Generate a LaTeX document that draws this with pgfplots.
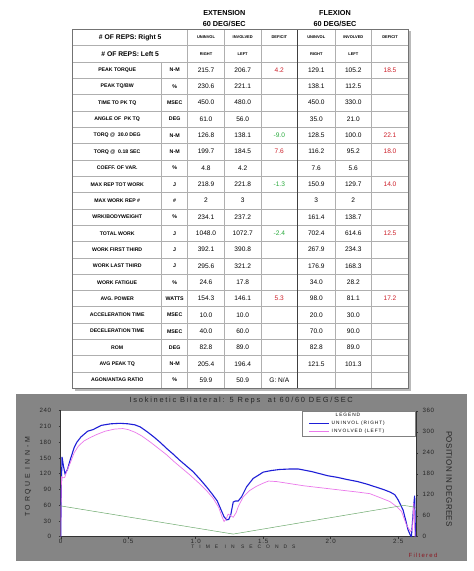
\documentclass[border=0pt]{standalone}
\usepackage{fontspec}
\setmainfont{Liberation Sans}
\usepackage{pgfplots}
\pgfplotsset{compat=1.18}

\definecolor{panelgray}{RGB}{133,133,133}
\definecolor{gridgray}{RGB}{175,175,175}
\definecolor{defred}{RGB}{205,30,40}
\definecolor{defgreen}{RGB}{40,170,60}
\definecolor{uninv}{RGB}{30,30,215}
\definecolor{inv}{RGB}{235,120,235}
\definecolor{posgreen}{RGB}{110,170,110}
\definecolor{filtred}{RGB}{140,25,35}

\newcommand\fs[1]{\fontsize{#1}{#1}\selectfont}
\newcommand\ls[1]{\addfontfeatures{LetterSpace=#1}}
\newcommand\R[1]{\textcolor{defred}{#1}}
\newcommand\G[1]{\textcolor{defgreen}{#1}}

\begin{document}
\begin{tikzpicture}
\fill[white] (0,0) rectangle (474bp,571bp);
\path[use as bounding box] (0,0) rectangle (474bp,571bp);

% ---------- table ----------
\begin{scope}[x=1bp,y=-1bp,yshift=571bp]
  \node[font=\bfseries\fs{7.3}] at (224.3,13.3) {EXTENSION};
  \node[font=\bfseries\fs{7.3}] at (224.3,24.2) {60 DEG/SEC};
  \node[font=\bfseries\fs{7.3}] at (335,13.3) {FLEXION};
  \node[font=\bfseries\fs{7.3}] at (335,24.2) {60 DEG/SEC};

  % shadow and frame
  \fill[gray!55] (408.3,31.5) rectangle (411.3,391.3);
  \fill[gray!55] (74.7,388.3) rectangle (411.3,391.3);
  \foreach \k in {1,...,21}
    \draw[gridgray, line width=0.5bp] (72.7,{29.3+16.32*\k}) -- (408.3,{29.3+16.32*\k});
  \foreach \xx in {187.7,224.3,261,335,371.7}
    \draw[gridgray, line width=0.5bp] (\xx,29.3) -- (\xx,388.3);
  \draw[gridgray, line width=0.5bp] (161.7,61.9) -- (161.7,388.3);
  \draw[black!75, line width=0.8bp] (297.7,29.3) -- (297.7,388.3);
  \draw[black!55, line width=0.6bp] (72.7,29.3) rectangle (408.3,388.3);

  % header rows
  \node[font=\bfseries\fs{6.8}] at (130.2,37.5) {\# OF REPS: Right 5};
  \node[font=\bfseries\fs{6.8}] at (130.2,53.8) {\# OF REPS: Left 5};
  \foreach \xx/\t in {206/UNINVOL,242.7/INVOLVED,279.3/DEFICIT,316.3/UNINVOL,353.3/INVOLVED,390/DEFICIT}
    \node[font=\bfseries\fs{4}] at (\xx,37.5) {\t};
  \foreach \xx/\t in {206/RIGHT,242.7/LEFT,316.3/RIGHT,353.3/LEFT}
    \node[font=\bfseries\fs{4}] at (\xx,53.8) {\t};

  % data rows
  \foreach \lab/\un/\a/\b/\c/\d/\e/\f [count=\i] in {
    PEAK TORQUE/N-M/215.7/206.7/\R{4.2}/129.1/105.2/\R{18.5},
    PEAK TQ\slash BW/\%/230.6/221.1/{}/138.1/112.5/{},
    TIME TO PK TQ/MSEC/450.0/480.0/{}/450.0/330.0/{},
    ANGLE OF\ \ PK TQ/DEG/61.0/56.0/{}/35.0/21.0/{},
    TORQ @\ \ 30.0 DEG/N-M/126.8/138.1/\G{-9.0}/128.5/100.0/\R{22.1},
    TORQ @\ \ 0.18 SEC/N-M/199.7/184.5/\R{7.6}/116.2/95.2/\R{18.0},
    COEFF. OF VAR./\%/4.8/4.2/{}/7.6/5.6/{},
    MAX REP TOT WORK/J/218.9/221.8/\G{-1.3}/150.9/129.7/\R{14.0},
    MAX WORK REP \#/\#/2/3/{}/3/2/{},
    WRK\slash BODYWEIGHT/\%/234.1/237.2/{}/161.4/138.7/{},
    TOTAL WORK/J/1048.0/1072.7/\G{-2.4}/702.4/614.6/\R{12.5},
    WORK FIRST THIRD/J/392.1/390.8/{}/267.9/234.3/{},
    WORK LAST THIRD/J/295.6/321.2/{}/176.9/168.3/{},
    WORK FATIGUE/\%/24.6/17.8/{}/34.0/28.2/{},
    AVG. POWER/WATTS/154.3/146.1/\R{5.3}/98.0/81.1/\R{17.2},
    ACCELERATION TIME/MSEC/10.0/10.0/{}/20.0/30.0/{},
    DECELERATION TIME/MSEC/40.0/60.0/{}/70.0/90.0/{},
    ROM/DEG/82.8/89.0/{}/82.8/89.0/{},
    AVG PEAK TQ/N-M/205.4/196.4/{}/121.5/101.3/{},
    AGON\slash ANTAG RATIO/\%/59.9/50.9/G: N\slash A/{}/{}/{}}{
    \pgfmathsetmacro\yc{29.3+16.32*(\i+1)+8.16}
    \node[font=\bfseries\fs{5.2}] at (117.2,\yc) {\lab};
    \node[font=\bfseries\fs{5.3}] at (174.7,\yc) {\un};
    \node[font=\fs{6.6}] at (206,\yc) {\a};
    \node[font=\fs{6.6}] at (242.7,\yc) {\b};
    \node[font=\fs{6.6}] at (279.3,\yc) {\c};
    \node[font=\fs{6.6}] at (316.3,\yc) {\d};
    \node[font=\fs{6.6}] at (353.3,\yc) {\e};
    \node[font=\fs{6.6}] at (390,\yc) {\f};
  }

  % ---------- chart panel ----------
  \fill[panelgray] (16,394) rectangle (466.7,560.7);
  \node[font=\fs{7.5}\ls{23}, text=black!85] at (241.3,400.7)
    {Isokinetic Bilateral: 5 Reps\ \ at 60/60 DEG/SEC};
  \node[rotate=90, font=\fs{7}\ls{38}, text=black!85] at (28,476.7) {TORQUE IN N-M};
  \node[rotate=-90, font=\fs{8}\ls{5}, text=black!85] at (449,479) {POSITION IN DEGREES};
  \node[font=\fs{5}\ls{100}, text=black!85] at (243.5,547) {TIME IN SECONDS};
  \node[font=\fs{6}\ls{21}, text=filtred] at (423,555.7) {Filtered};
\end{scope}

% ---------- torque axis ----------
\begin{axis}[
  at={(60.7bp,34.3bp)}, anchor=south west, scale only axis,
  width=355.3bp, height=126bp,
  xmin=0, xmax=2.632, ymin=0, ymax=240,
  axis x line*=bottom, axis y line*=left,
  axis line style={draw=black!80, line width=0.5bp},
  axis background/.style={fill=white},
  xtick={0,0.5,1,1.5,2,2.5}, xticklabels={0,0.5,1.0,1.5,2.0,2.5},
  ytick={0,30,...,240},
  tick style={black!80, line width=0.4bp}, major tick length=2bp, tick align=outside,
  tick label style={font=\fs{6.2}\ls{10}, text=black!85},
  /pgf/number format/assume math mode=true,
  yticklabel style={xshift=-4bp},
  xticklabel style={yshift=3.2bp, font=\fs{6.2}\ls{14}},
  no markers,
  legend style={at={(0.997,1)}, anchor=north east, draw=gray, line width=0.4bp,
    fill=white, font=\fs{4.8}\ls{20}, inner xsep=6bp, inner ysep=1bp, row sep=0.5bp,
    nodes={text height=3.5bp, text depth=1bp, inner ysep=1.5bp}},
  legend cell align=left,
  legend image code/.code={\draw[#1] (0bp,0bp) -- (20bp,0bp);},
]
\addlegendimage{empty legend}
\addlegendentry{\hspace{4bp}LEGEND}
\addplot[uninv, line width=1.1bp] table {
t tq
0 0
0.005 100
0.01 152
0.02 135
0.032 120
0.05 128
0.07 146
0.1 170
0.12 180
0.15 190
0.2 201
0.24 204
0.27 208
0.3 212
0.37 215
0.44 216
0.5 215
0.55 213
0.59 209
0.64 200
0.69 190
0.74 179
0.785 168
0.83 158
0.88 146
0.93 135
0.98 124
1.03 110
1.08 95
1.12 82
1.16 68
1.19 50
1.21 38
1.229 32
1.245 33
1.26 42
1.278 66
1.295 68
1.315 68
1.34 76
1.377 95
1.426 111
1.47 118
1.5 123
1.56 126
1.62 128
1.7 129
1.76 129
1.8 127
1.86 124
1.92 120
1.98 116
2.05 113
2.12 109
2.2 105
2.27 100
2.33 95
2.39 90
2.44 85
2.475 80
2.5 70
2.536 51
2.555 32
2.573 13
2.59 3
2.598 0
2.605 25
2.615 60
2.622 78
2.625 40
2.628 0
};
\addlegendentry{\makebox[75bp][l]{UNINVOL (RIGHT)}}
\addplot[inv, line width=0.7bp] table {
t tq
0 0
0.003 60
0.006 114
0.015 112
0.03 113
0.045 125
0.07 140
0.1 160
0.13 172
0.17 182
0.22 189
0.27 195
0.33 201
0.4 205
0.46 206
0.5 204
0.55 199
0.6 192
0.66 181
0.72 169
0.78 157
0.84 143
0.9 130
0.96 117
1.02 103
1.08 88
1.13 73
1.17 56
1.195 38
1.21 29
1.225 33
1.24 43
1.26 40
1.278 37
1.3 46
1.315 57
1.352 76
1.4 88
1.45 96
1.5 102
1.54 106
1.6 105
1.7 101
1.8 97
1.9 94
2.0 91
2.1 88
2.2 85
2.29 82
2.36 75
2.438 67
2.49 57
2.525 48
2.562 22
2.591 10
2.605 14
2.612 45
2.616 64
2.62 40
2.625 0
};
\addlegendentry{\makebox[75bp][l]{INVOLVED (LEFT)}}
\end{axis}

% ---------- position axis ----------
\begin{axis}[
  at={(60.7bp,34.3bp)}, anchor=south west, scale only axis,
  width=355.3bp, height=126bp,
  xmin=0, xmax=2.632, ymin=0, ymax=360,
  axis y line*=right, axis x line=none,
  axis line style={draw=black!80, line width=0.5bp},
  ytick={0,60,...,360},
  tick style={black!80, line width=0.4bp}, major tick length=2bp, tick align=outside,
  tick label style={font=\fs{6.2}\ls{10}, text=black!85},
  /pgf/number format/assume math mode=true,
  yticklabel style={xshift=1bp},
  no markers,
]
\addplot[posgreen, line width=0.5bp] coordinates {(0,88) (1.278,7.5) (2.54,89.5) (2.63,84)};
\end{axis}
\end{tikzpicture}
\end{document}
